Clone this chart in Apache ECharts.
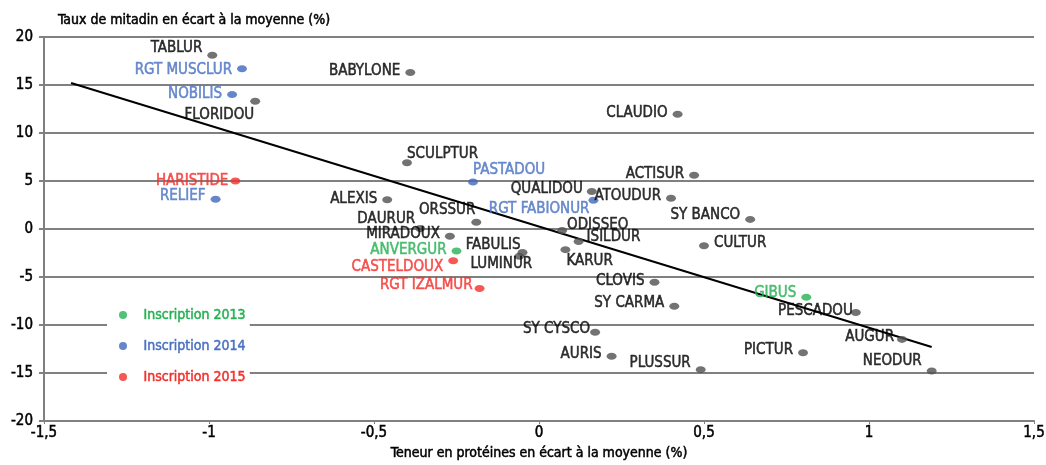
<!DOCTYPE html>
<html>
<head>
<meta charset="utf-8">
<script src="https://cdn.jsdelivr.net/npm/echarts@6/dist/echarts.min.js"></script>
<style>html,body{margin:0;padding:0;background:#fff}#c{width:1046px;height:465px}</style>
</head>
<body>
<div id="c"></div>
<script>
const names = ["TABLUR","RGT MUSCLUR","NOBILIS","FLORIDOU","HARISTIDE","RELIEF","BABYLONE","CLAUDIO","SCULPTUR","PASTADOU","ACTISUR","QUALIDOU","ATOUDUR","RGT FABIONUR","ALEXIS","ORSSUR","DAURUR","SY BANCO","MIRADOUX","ODISSEO","ISILDUR","KARUR","FABULIS","LUMINUR","ANVERGUR","CASTELDOUX","RGT IZALMUR","CLOVIS","SY CARMA","SY CYSCO","AURIS","PLUSSUR","CULTUR","GIBUS","PESCADOU","AUGUR","PICTUR","NEODUR"];
const proteines = [-0.99,-0.90,-0.93,-0.86,-0.92,-0.98,-0.39,0.42,-0.40,-0.20,0.47,0.16,0.40,0.165,-0.46,-0.19,-0.36,0.64,-0.27,0.07,0.12,0.08,-0.05,-0.06,-0.25,-0.26,-0.18,0.35,0.41,0.17,0.22,0.49,0.50,0.81,0.96,1.10,0.80,1.19];
const mitadin = [18.1,16.7,14.0,13.3,5.0,3.1,16.3,11.95,6.9,4.9,5.6,3.9,3.2,3.0,3.05,0.7,0.05,1.0,-0.75,-0.15,-1.3,-2.15,-2.45,-2.85,-2.3,-3.3,-6.2,-5.55,-8.05,-10.75,-13.25,-14.65,-1.75,-7.1,-8.7,-11.5,-12.9,-14.8];
const inscription = [0,2014,2014,0,2015,2014,0,0,0,2014,0,0,0,2014,0,0,0,0,0,0,0,0,0,0,2013,2015,2015,0,0,0,0,0,0,2013,0,0,0,0];
const trendX = [-1.418, 1.19];
const trendY = [15.2, -12.3];

// label placement (style only): [position, dx, dy]
const labelPlace = [
 ['left',0,-7],['left',0,1],['left',0,0],['left',9,14],['left',3,0],['left',0,-3],
 ['left',0,-1],['left',0,-1],['right',-10,-9],['right',-10,-12],['left',0,-1],['left',1,-2],
 ['left',0,-2],['left',6,9],['left',0,-1],['left',9,-12],['left',5,-9],['left',0,-4],
 ['left',0,-2],['right',-5,-5],['right',-2,-4],['right',-9,11],['left',8,-7],['left',23,8],
 ['left',0,-1],['left',0,6],['left',3,-3],['left',0,-1],['left',0,-3],['left',5,-3],
 ['left',0,-2],['left',0,-7],['right',0,-3],['left',0,-4],['left',7,-1],['left',2,-2],
 ['left',0,-3],['left',0,-10]
];
const dotColor = {0:'#505050',2013:'#25b252',2014:'#3e68bd',2015:'#f2302c'};
const textColor = {0:'#000000',2013:'#25b252',2014:'#4a72c2',2015:'#f2302c'};
const FONT = "'Liberation Sans Narrow','DejaVu Sans Condensed','Roboto Condensed','Arial Narrow',sans-serif";
const ELL = 'path://M-1,0A1,1,0,1,0,1,0A1,1,0,1,0,-1,0Z';

function items(g){
  const out = [];
  names.forEach((n,i)=>{
    if (inscription[i] !== g) return;
    const p = labelPlace[i];
    out.push({name:n, value:[proteines[i], mitadin[i]],
      label:{position:p[0], offset:[p[1],p[2]]}});
  });
  return out;
}
function scatter(g, name){
  return {
    name: name, type:'scatter', symbol: ELL, symbolSize:[10,7], z:5,
    itemStyle:{color:dotColor[g]},
    label:{show:true, formatter:'{b}', fontFamily:FONT, fontSize:15, color:textColor[g],
      textBorderColor:textColor[g], textBorderWidth:0.5, distance:5},
    emphasis:{disabled:true},
    data: items(g)
  };
}
const fmt = v => String(v).replace('.', ',');
const txt = (c, s) => ({fontFamily:FONT, fontSize:s, color:c, textBorderColor:c, textBorderWidth:0.5});
const chart = echarts.init(document.getElementById('c'), null, {renderer:'canvas'});
chart.setOption({
  animation:false,
  backgroundColor:'#fff',
  title:{text:'Taux de mitadin en écart à la moyenne (%)', left:53, top:8,
    textStyle:Object.assign(txt('#000', 14), {fontWeight:'normal'})},
  grid:{left:44, right:12, top:37, bottom:44, outerBoundsMode:'none', containLabel:false},
  legend:{
    orient:'vertical', left:107, top:301, backgroundColor:'#fff',
    padding:[6,4,6,12], itemGap:15, itemWidth:11, itemHeight:8,
    icon: ELL,
    data:[
      {name:'Inscription 2013', textStyle:{color:textColor[2013], textBorderColor:textColor[2013]}},
      {name:'Inscription 2014', textStyle:{color:textColor[2014], textBorderColor:textColor[2014]}},
      {name:'Inscription 2015', textStyle:{color:textColor[2015], textBorderColor:textColor[2015]}}
    ],
    textStyle:{fontFamily:FONT, fontSize:14, lineHeight:16, textBorderWidth:0.5, padding:[0,0,0,10]}
  },
  xAxis:{
    type:'value', min:-1.5, max:1.5, interval:0.5,
    name:'Teneur en protéines en écart à la moyenne (%)', nameLocation:'middle', nameGap:25,
    nameTextStyle:txt('#000', 14),
    axisLine:{show:true, onZero:false, lineStyle:{color:'#808080', width:2}},
    axisTick:{show:true, length:3, lineStyle:{color:'#808080', width:1}},
    axisLabel:Object.assign(txt('#000', 15), {formatter:fmt, margin:5}),
    splitLine:{show:false}
  },
  yAxis:{
    type:'value', min:-20, max:20, interval:5,
    axisLine:{show:true, onZero:false, lineStyle:{color:'#808080', width:2}},
    axisTick:{show:true, length:5, lineStyle:{color:'#808080', width:2}},
    axisLabel:Object.assign(txt('#000', 15), {formatter:fmt, margin:11}),
    splitLine:{show:true, lineStyle:{color:'#808080', width:2}}
  },
  series:[
    {name:'trend', type:'line', symbol:'none', z:4, silent:true,
     lineStyle:{color:'#000', width:2}, data: trendX.map((x,i)=>[x, trendY[i]])},
    scatter(0, 'Autres'),
    scatter(2013, 'Inscription 2013'),
    scatter(2014, 'Inscription 2014'),
    scatter(2015, 'Inscription 2015')
  ]
});
</script>
</body>
</html>
